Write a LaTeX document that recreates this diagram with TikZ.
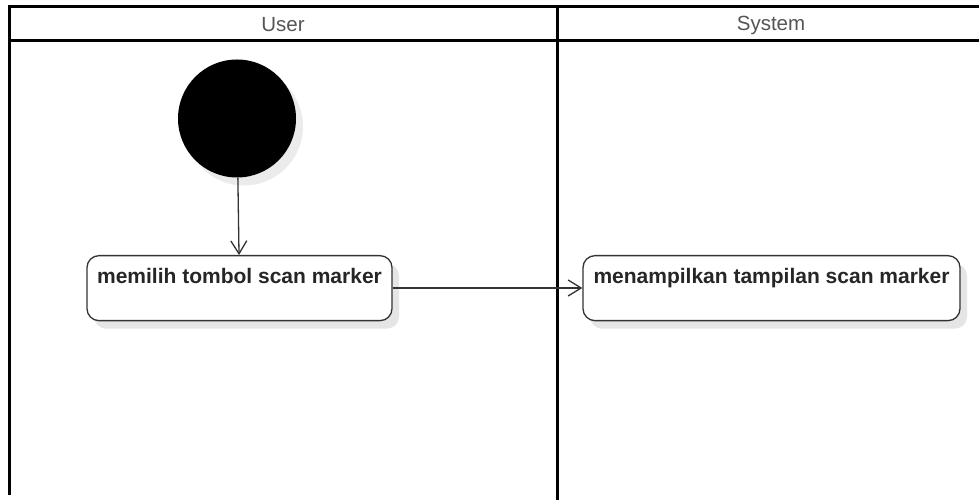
\documentclass[tikz,border=0pt]{standalone}
\usepackage{fontspec}
\setmainfont{Liberation Sans}
\usetikzlibrary{arrows.meta,shadows}
\definecolor{lanetext}{HTML}{555555}
\definecolor{edgegray}{HTML}{333333}
\begin{document}
\begin{tikzpicture}[x=1pt,y=1pt,
  lane/.style={line width=2.6pt,black},
  lanetitle/.style={font=\fontsize{20.5}{24}\selectfont,text=lanetext,inner sep=0pt},
  actbox/.style={draw=edgegray,line width=1.3pt,rounded corners=12pt,fill=white,
    inner xsep=0pt,inner ysep=0pt,text height=28pt,text depth=37pt,
    font=\fontsize{21}{25}\selectfont\bfseries,text=black!85,
    drop shadow={shadow xshift=7pt,shadow yshift=-8pt,fill=black!10,opacity=1}},
  startdot/.style={circle,fill=black,minimum size=118pt,inner sep=0pt,
    drop shadow={shadow xshift=7pt,shadow yshift=-8pt,fill=black!8,opacity=1}},
  flow/.style={draw=edgegray,line width=1.3pt,-{Straight Barb[length=13pt,width=16pt,line width=1.3pt]}}
]
\useasboundingbox (0,0) rectangle (979,500);
\fill[white] (0,0) rectangle (979,500);

% swimlane frame
\coordinate (tl) at (9.5,493.5);
\coordinate (tr) at (985,493.5);
\coordinate (hl) at (9.5,459.5);
\coordinate (hr) at (985,459.5);
\coordinate (bl) at (9.5,5);
\coordinate (mt) at (557.5,493.5);
\coordinate (mb) at (557.5,-2);
\draw[lane] (tr) -- (tl) -- (bl);
\draw[lane] (hl) -- (hr);
\draw[lane] (mt) -- (mb);

% lane titles
\node[lanetitle] (userlane) at (283,475) {User};
\node[lanetitle] (systemlane) at (771,475) {System};

% initial node
\node[startdot] (start) at (237,381.5) {};

% actions
\node[actbox,minimum width=305pt,anchor=north] (pilih) at (239.5,245) {memilih tombol scan marker};
\node[actbox,minimum width=377pt,anchor=north] (tampil) at (771.5,245) {menampilkan tampilan scan marker};

% control flow
\draw[flow] (start) -- (pilih);
\draw[flow] (pilih.east |- 0,212) -- (tampil.west |- 0,212);
\end{tikzpicture}
\end{document}
